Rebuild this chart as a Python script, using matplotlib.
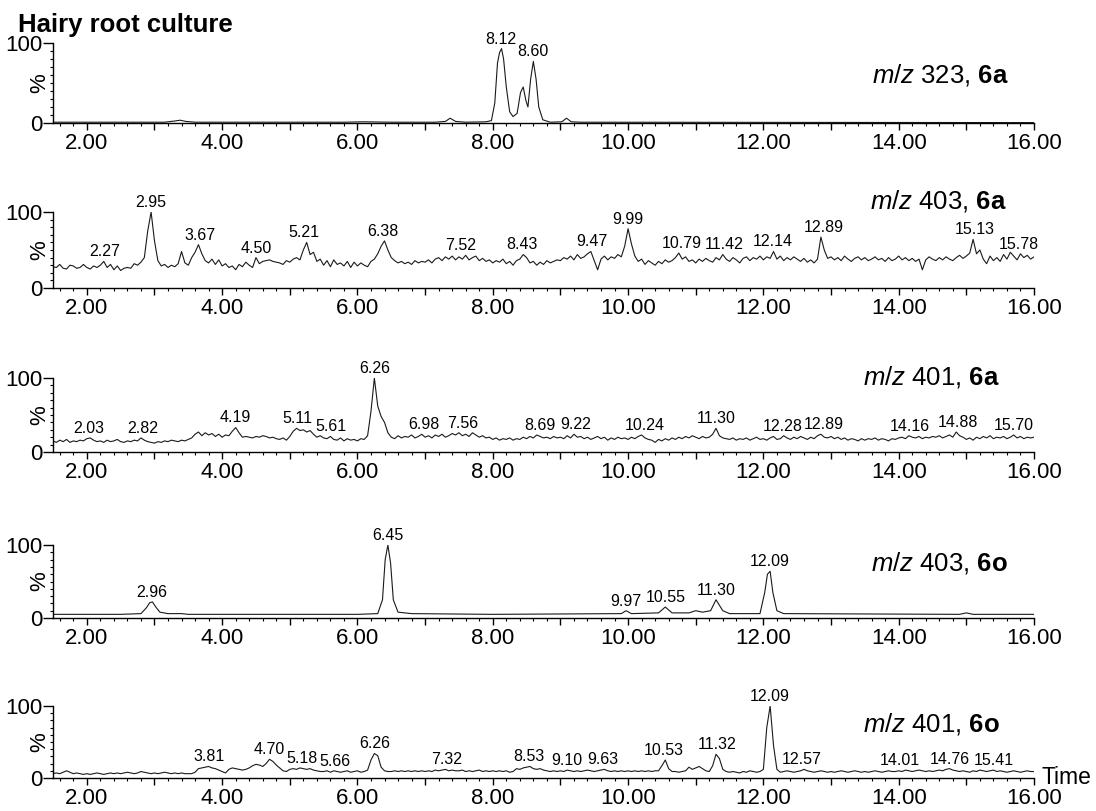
"""Stacked LC-MS ion chromatograms, hairy root culture."""
import numpy as np
import matplotlib.pyplot as plt
from matplotlib.ticker import MultipleLocator, FuncFormatter

plt.rcParams['font.family'] = ['Liberation Sans', 'DejaVu Sans']
plt.rcParams['mathtext.fontset'] = 'custom'
plt.rcParams['mathtext.rm'] = 'Liberation Sans'
plt.rcParams['mathtext.it'] = 'Liberation Sans:italic'
plt.rcParams['mathtext.bf'] = 'Liberation Sans:bold'

# ---- data (relative intensity, %) ----
# smooth traces given as (time, intensity) points
t_323_6a = [1.5, 3.15, 3.3, 3.38, 3.46, 3.6, 5.8, 6.1, 6.5, 7.15,
            7.3, 7.37, 7.45, 7.6, 7.9, 7.98, 8.03, 8.07, 8.1, 8.13,
            8.16, 8.2, 8.25, 8.3, 8.36, 8.41, 8.45, 8.49, 8.52, 8.56,
            8.6, 8.64, 8.68, 8.74, 8.85, 9.02, 9.09, 9.16, 9.3, 12.0,
            16.0]
i_323_6a = [1, 1, 2.5, 3.5, 2, 1, 1, 1.5, 1, 1,
            2, 6, 2, 1, 1.5, 3, 25, 75, 88, 93,
            80, 45, 14, 8, 12, 38, 45, 28, 20, 55,
            77, 55, 20, 4, 1, 1.5, 6, 1.5, 1, 0.8,
            0.5]

t_403_6o = [1.5, 2.0, 2.5, 2.8, 2.88, 2.93, 2.97, 3.02, 3.08, 3.2,
            3.4, 3.5, 4.5, 6.0, 6.3, 6.37, 6.41, 6.45, 6.49, 6.53,
            6.6, 6.8, 8.0, 9.9, 9.97, 10.05, 10.45, 10.55, 10.65, 10.9,
            11.0, 11.1, 11.22, 11.3, 11.4, 11.5, 11.95, 12.02, 12.06, 12.1,
            12.14, 12.2, 12.3, 14.9, 15.0, 15.1, 16.0]
i_403_6o = [5, 5, 5, 6, 14, 21, 22, 15, 8, 6,
            6, 5, 5, 5, 6, 25, 80, 100, 75, 25,
            8, 6, 5, 6, 10, 6, 7, 15, 7, 7,
            10, 8, 10, 25, 10, 6, 6, 35, 60, 64,
            35, 10, 6, 5, 7, 5, 5]

# noisy traces read every 0.05 min from 1.50 to 16.00
grid_start, grid_step = 1.5, 0.05
i_403_6a = [
    28, 27, 31, 26, 25, 30, 29, 26, 27, 31,
    27, 25, 29, 27, 30, 35, 27, 31, 24, 29,
    23, 26, 27, 26, 32, 30, 34, 40, 75, 100,
    62, 36, 29, 31, 27, 30, 28, 32, 48, 33,
    30, 40, 47, 57, 45, 36, 33, 38, 31, 37,
    29, 32, 27, 29, 24, 31, 28, 34, 30, 27,
    40, 32, 35, 36, 37, 35, 34, 33, 31, 36,
    34, 38, 40, 37, 50, 60, 44, 47, 35, 38,
    30, 36, 28, 37, 31, 33, 29, 35, 27, 34,
    29, 33, 30, 28, 35, 38, 45, 55, 62, 50,
    40, 36, 33, 35, 32, 34, 31, 36, 33, 35,
    34, 37, 33, 38, 40, 36, 41, 38, 42, 37,
    41, 38, 43, 37, 40, 42, 36, 39, 35, 37,
    33, 36, 34, 38, 32, 35, 30, 36, 38, 44,
    40, 33, 35, 30, 34, 31, 36, 33, 35, 37,
    36, 40, 38, 42, 37, 44, 39, 41, 45, 48,
    36, 24, 38, 42, 37, 41, 39, 44, 41, 55,
    78, 58, 42, 35, 38, 31, 36, 33, 30, 35,
    32, 37, 34, 36, 40, 46, 38, 41, 35, 37,
    33, 38, 35, 39, 36, 34, 40, 37, 44, 38,
    35, 40, 37, 33, 39, 41, 36, 40, 38, 42,
    37, 41, 39, 48, 38, 42, 36, 40, 37, 41,
    38, 35, 39, 34, 37, 33, 38, 67, 50, 39,
    41, 37, 40, 36, 42, 38, 35, 39, 41, 37,
    40, 36, 38, 41, 37, 39, 35, 40, 36, 38,
    42, 37, 40, 36, 39, 35, 38, 24, 37, 41,
    38, 36, 40, 37, 41, 38, 36, 40, 43, 39,
    42, 46, 64, 45, 50, 38, 32, 42, 36, 40,
    35, 44, 38, 47, 42, 37, 45, 40, 43, 38,
    41]

i_401_6a = [
    15, 13, 16, 14, 17, 13, 15, 14, 16, 15,
    18, 19, 16, 14, 15, 13, 16, 14, 15, 17,
    14, 13, 15, 14, 16, 15, 19, 16, 14, 13,
    12, 14, 13, 15, 14, 16, 15, 14, 16, 15,
    17, 19, 24, 27, 22, 26, 23, 25, 21, 24,
    20, 23, 22, 28, 33, 26, 20, 21, 20, 19,
    21, 20, 22, 21, 19, 20, 18, 17, 19, 16,
    21, 28, 32, 29, 30, 27, 29, 24, 20, 22,
    19, 18, 21, 17, 16, 19, 15, 18, 16, 17,
    15, 18, 17, 22, 55, 100, 62, 48, 40, 26,
    20, 18, 22, 19, 21, 20, 23, 19, 21, 24,
    20, 22, 19, 23, 21, 24, 20, 22, 25, 23,
    26, 22, 24, 21, 26, 23, 20, 22, 19, 20,
    17, 19, 16, 18, 17, 19, 16, 18, 17, 20,
    18, 21, 19, 23, 21, 19, 20, 18, 21, 19,
    20, 18, 22, 19, 24, 20, 21, 18, 20, 17,
    19, 21, 18, 20, 16, 19, 17, 20, 18, 19,
    17, 20, 18, 21, 23, 19, 17, 16, 13, 17,
    15, 18, 16, 19, 17, 20, 18, 21, 19, 22,
    20, 18, 21, 19, 20, 24, 32, 22, 19, 18,
    17, 19, 16, 18, 17, 19, 16, 18, 20, 17,
    18, 16, 19, 21, 17, 18, 22, 19, 17, 20,
    18, 21, 19, 17, 20, 18, 22, 24, 20, 19,
    21, 18, 20, 17, 19, 16, 18, 17, 15, 18,
    16, 18, 17, 19, 16, 18, 17, 15, 18, 17,
    19, 20, 18, 22, 20, 19, 21, 18, 20, 19,
    21, 20, 22, 19, 21, 23, 20, 27, 22, 20,
    17, 19, 16, 20, 18, 21, 19, 22, 18, 20,
    19, 21, 18, 20, 23, 19, 21, 18, 20, 19,
    20]

i_401_6o = [
    6, 7, 6, 8, 10, 8, 6, 7, 6, 5,
    6, 5, 6, 7, 6, 5, 6, 7, 6, 7,
    6, 7, 8, 7, 6, 7, 9, 8, 7, 6,
    7, 6, 7, 8, 7, 6, 7, 6, 7, 6,
    6, 6, 8, 13, 14, 15, 16, 14, 13, 11,
    9, 7, 12, 14, 13, 12, 11, 12, 14, 17,
    19, 18, 16, 20, 26, 23, 18, 14, 10, 9,
    12, 13, 12, 14, 13, 12, 13, 11, 10, 9,
    9, 10, 8, 10, 9, 8, 9, 10, 8, 9,
    10, 8, 9, 11, 25, 34, 31, 15, 10, 9,
    9, 10, 9, 10, 9, 10, 9, 10, 9, 10,
    9, 10, 9, 11, 10, 11, 12, 10, 11, 10,
    10, 11, 9, 10, 9, 10, 11, 9, 10, 9,
    10, 9, 10, 9, 10, 8, 9, 13, 12, 14,
    15, 16, 13, 12, 13, 11, 10, 9, 10, 9,
    10, 9, 11, 10, 9, 10, 9, 10, 11, 10,
    9, 10, 11, 12, 10, 9, 10, 9, 10, 9,
    10, 9, 10, 9, 10, 9, 10, 9, 10, 10,
    17, 25, 13, 9, 9, 8, 9, 10, 15, 12,
    14, 16, 13, 10, 9, 17, 33, 27, 12, 9,
    8, 9, 8, 7, 9, 8, 10, 9, 8, 9,
    12, 70, 100, 45, 12, 8, 9, 10, 9, 8,
    9, 10, 12, 10, 9, 8, 9, 10, 9, 8,
    9, 8, 9, 10, 9, 8, 9, 10, 9, 8,
    9, 8, 9, 10, 9, 8, 9, 10, 9, 9,
    10, 9, 11, 10, 9, 10, 11, 10, 9, 10,
    9, 10, 11, 10, 12, 13, 11, 10, 9, 10,
    9, 8, 10, 9, 11, 10, 9, 10, 11, 9,
    10, 9, 8, 9, 10, 9, 8, 9, 10, 9,
    9]

t_grid = np.round(grid_start + grid_step * np.arange(len(i_403_6a)), 2)

# peak labels (retention times)
peaks_323_6a = [8.12, 8.60]
peaks_403_6a = [2.27, 2.95, 3.67, 4.50, 5.21, 6.38, 7.52, 8.43, 9.47, 9.99,
                10.79, 11.42, 12.14, 12.89, 15.13, 15.78]
peaks_401_6a = [2.03, 2.82, 4.19, 5.11, 5.61, 6.26, 6.98, 7.56, 8.69, 9.22,
                10.24, 11.30, 12.28, 12.89, 14.16, 14.88, 15.70]
peaks_403_6o = [2.96, 6.45, 9.97, 10.55, 11.30, 12.09]
peaks_401_6o = [3.81, 4.70, 5.18, 5.66, 6.26, 7.32, 8.53, 9.10, 9.63, 10.53,
                11.32, 12.09, 12.57, 14.01, 14.76, 15.41]

mz_values = ['323', '403', '401', '403', '401']
compounds = ['6a', '6a', '6a', '6o', '6o']

traces = [
    (t_323_6a, i_323_6a, peaks_323_6a),
    (t_grid, i_403_6a, peaks_403_6a),
    (t_grid, i_401_6a, peaks_401_6a),
    (t_403_6o, i_403_6o, peaks_403_6o),
    (t_grid, i_401_6o, peaks_401_6o),
]

# ---- layout (pixels in a 1096 x 811 figure) ----
W, H = 1096, 811
x_left, x_right = 53, 1034
panel_px = [(43, 123), (212, 288), (378, 452), (545, 618), (706, 778)]
label_pos = [(15.62, 0.60), (15.6, 1.15), (15.5, 1.01), (15.62, 0.75), (15.5, 0.75)]

fig = plt.figure(figsize=(W / 100, H / 100), dpi=100)

for k, (t, y, peaks) in enumerate(traces):
    top, bot = panel_px[k]
    ax = fig.add_axes([x_left / W, 1 - bot / H, (x_right - x_left) / W, (bot - top) / H])
    t = np.asarray(t, dtype=float)
    y = np.asarray(y, dtype=float)
    ax.plot(t, y, color='#1a1a1a', lw=0.8)

    ax.set_xlim(1.5, 16.0)
    ax.set_ylim(0, 100)
    for side in ('top', 'right'):
        ax.spines[side].set_visible(False)
    ax.spines['left'].set_linewidth(1.0)
    ax.spines['bottom'].set_linewidth(1.0)

    ax.xaxis.set_major_locator(MultipleLocator(1))
    ax.xaxis.set_minor_locator(MultipleLocator(0.2))
    ax.xaxis.set_major_formatter(FuncFormatter(
        lambda v, pos: f'{v:.2f}' if round(v) % 2 == 0 else ''))
    ax.set_yticks([0, 100])
    ax.yaxis.set_minor_locator(MultipleLocator(10))
    ax.tick_params(axis='x', which='major', length=5, width=1, labelsize=16, pad=2.5)
    ax.tick_params(axis='x', which='minor', length=2.5, width=0.8)
    ax.tick_params(axis='y', which='major', length=7, width=1, labelsize=16, pad=0.5)
    ax.tick_params(axis='y', which='minor', length=2.5, width=0.8)

    ax.text(-0.013, 0.5, '%', rotation=90, ha='center', va='center',
            fontsize=16, transform=ax.transAxes)

    # retention time labels sit just above the local maximum
    for p in peaks:
        near = np.abs(t - p) <= 0.1
        ymax = y[near].max()
        ax.annotate(f'{p:.2f}', xy=(p, ymax), xytext=(0, 1.5),
                    textcoords='offset points', ha='center', va='bottom',
                    fontsize=11.5)

    lx, ly = label_pos[k]
    ax.text(lx, ly, rf'$\mathit{{m/z}}$ {mz_values[k]}, $\mathbf{{{compounds[k]}}}$',
            ha='right', va='center', fontsize=18.5,
            transform=ax.get_xaxis_transform())

fig.text(18 / W, 1 - 25 / H, 'Hairy root culture', fontsize=18.5,
         fontweight='bold', ha='left', va='center')
fig.text(1042 / W, 1 - 778 / H, 'Time', fontsize=16.5, ha='left', va='center')

fig.savefig('out.png', dpi=100)
